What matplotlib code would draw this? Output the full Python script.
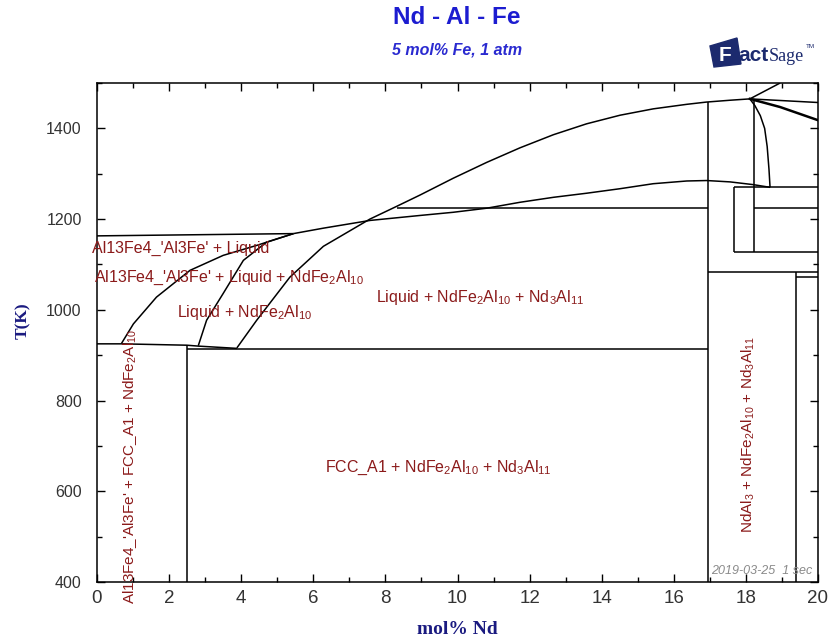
import matplotlib
matplotlib.use("Agg")
import matplotlib.pyplot as plt
from matplotlib.patches import Polygon
from matplotlib.ticker import MultipleLocator

# ---------------------------------------------------------------------------
# Nd-Al-Fe isopleth at 5 mol% Fe: phase boundaries (x = mol% Nd, y = T / K)
# ---------------------------------------------------------------------------
liq_flat_x = [0.0, 5.45]
liq_flat_T = [1163, 1168]

al13fe4_liq_x = [0.68, 1.01, 1.65, 2.58, 3.50, 4.43, 5.45]
al13fe4_liq_T = [926, 969, 1028, 1087, 1120, 1142, 1168]

nd_liq_x = [2.81, 3.04, 3.50, 4.06, 4.70, 5.45]
nd_liq_T = [921, 977, 1036, 1109, 1149, 1168]

upper_liq_x = [3.88, 4.43, 5.35, 6.28, 7.57, 8.31, 8.96, 9.88, 10.81, 11.73,
               12.66, 13.58, 14.51, 15.43, 16.36, 16.91, 17.56, 18.11]
upper_liq_T = [916, 977, 1072, 1140, 1200, 1228, 1253, 1290, 1325, 1357,
               1386, 1410, 1429, 1443, 1453, 1458, 1462, 1465]

lower_liq_x = [5.45, 6.28, 7.57, 8.96, 9.88, 10.81, 11.73, 12.66, 13.58,
               14.51, 15.43, 16.36, 16.91, 17.56, 18.20, 18.67]
lower_liq_T = [1168, 1180, 1197, 1208, 1215, 1224, 1237, 1248, 1257,
               1267, 1278, 1284, 1285, 1282, 1276, 1270]

eutectic_x = [0.0, 0.68, 2.49, 2.81, 3.88]
eutectic_T = [925, 925, 922, 920, 915]

steep_x = [18.11, 18.25, 18.40, 18.52, 18.59, 18.64, 18.67]
steep_T = [1465, 1450, 1428, 1400, 1360, 1310, 1270]

peak_up_x = [18.11, 18.95]
peak_up_T = [1465, 1500]
peak_flat_x = [18.11, 20.0]
peak_flat_T = [1465, 1457]
peak_down_x = [18.11, 18.95, 20.0]
peak_down_T = [1465, 1447, 1418]

# straight invariant lines: (x0, x1, T0, T1)
straight_lines = [
    (2.49, 2.49, 922, 400),
    (2.49, 16.95, 913, 913),
    (8.31, 16.95, 1224, 1224),
    (16.95, 16.95, 1458, 400),
    (18.23, 18.23, 1465, 1127),
    (18.23, 20.0, 1224, 1224),
    (17.68, 17.68, 1270, 1127),
    (17.68, 20.0, 1270, 1270),
    (17.68, 20.0, 1127, 1127),
    (16.95, 20.0, 1083, 1083),
    (19.38, 19.38, 1083, 400),
    (19.38, 20.0, 1073, 1073),
]

# phase-field labels: (text, x, T, rotation, horizontal alignment, size)
field_labels = [
    ("Al13Fe4_'Al3Fe' + Liquid", -0.14, 1135, 0, "left", 11.5),
    ("Al13Fe4_'Al3Fe' + Liquid + NdFe$_2$Al$_{10}$", -0.08, 1071, 0, "left", 11.5),
    ("Liquid + NdFe$_2$Al$_{10}$", 2.22, 994, 0, "left", 11.5),
    ("Liquid + NdFe$_2$Al$_{10}$ + Nd$_3$Al$_{11}$", 7.74, 1027, 0, "left", 11.5),
    ("FCC_A1 + NdFe$_2$Al$_{10}$ + Nd$_3$Al$_{11}$", 6.32, 652, 0, "left", 11.5),
    ("Al13Fe4_'Al3Fe' + FCC_A1 + NdFe$_2$Al$_{10}$", 0.92, 655, 90, "center", 11),
    ("NdAl$_3$ + NdFe$_2$Al$_{10}$ + Nd$_3$Al$_{11}$", 18.06, 725, 90, "center", 11),
]

x_ticks = [0, 2, 4, 6, 8, 10, 12, 14, 16, 18, 20]
y_ticks = [400, 600, 800, 1000, 1200, 1400]

# ---------------------------------------------------------------------------
plt.rcParams["font.family"] = ["Liberation Sans", "DejaVu Sans"]
plt.rcParams["mathtext.fontset"] = "custom"
plt.rcParams["mathtext.rm"] = "Liberation Sans"
plt.rcParams["mathtext.it"] = "Liberation Sans:italic"
plt.rcParams["mathtext.bf"] = "Liberation Sans:bold"

W, H = 829, 643
fig = plt.figure(figsize=(W / 100, H / 100), dpi=100)
fig.patch.set_facecolor("white")
ax = fig.add_axes([97 / W, 1 - 582 / H, (818 - 97) / W, (582 - 83) / H])

line_kw = dict(color="black", lw=1.1, solid_capstyle="butt")
ax.plot(liq_flat_x, liq_flat_T, **line_kw)
ax.plot(al13fe4_liq_x, al13fe4_liq_T, **line_kw)
ax.plot(nd_liq_x, nd_liq_T, **line_kw)
ax.plot(upper_liq_x, upper_liq_T, **line_kw)
ax.plot(lower_liq_x, lower_liq_T, **line_kw)
ax.plot(eutectic_x, eutectic_T, **line_kw)
ax.plot(steep_x, steep_T, **line_kw)
ax.plot(peak_up_x, peak_up_T, **line_kw)
ax.plot(peak_flat_x, peak_flat_T, **line_kw)
ax.plot(peak_down_x, peak_down_T, color="black", lw=1.8)
for x0, x1, t0, t1 in straight_lines:
    ax.plot([x0, x1], [t0, t1], **line_kw)

label_color = "#8b1a1a"
for text, x, t, rot, ha, size in field_labels:
    ax.text(x, t, text, color=label_color, fontsize=size, rotation=rot,
            ha=ha, va="center", clip_on=False)

ax.text(19.83, 425, "2019-03-25  1 sec", color="#8a8a8a", fontsize=9,
        style="italic", ha="right", va="center")

ax.set_xlim(0, 20)
ax.set_ylim(400, 1500)
ax.set_xticks(x_ticks)
ax.set_yticks(y_ticks)
ax.xaxis.set_minor_locator(MultipleLocator(1))
ax.yaxis.set_minor_locator(MultipleLocator(100))
ax.tick_params(which="both", direction="in", top=True, right=True,
               colors="black")
ax.tick_params(which="major", length=6, width=1)
ax.tick_params(which="minor", length=3.5, width=1)
ax.tick_params(axis="x", which="major", labelsize=13.5, pad=6,
               labelcolor="#333333")
ax.tick_params(axis="y", which="major", labelsize=11.5, pad=11,
               labelcolor="#333333")
for s in ax.spines.values():
    s.set_linewidth(1.1)

ax.set_xlabel("mol% Nd", family=["Liberation Serif", "DejaVu Serif"],
              fontweight="bold", fontsize=14, color="#1a1a80")
ax.xaxis.set_label_coords(0.5, -(621 - 582) / (582 - 83))
ax.set_ylabel("T(K)", family=["Liberation Serif", "DejaVu Serif"],
              fontweight="bold", fontsize=12.5, color="#1a1a80")
ax.yaxis.set_label_coords(-(97 - 31) / (818 - 97), (582 - 321) / (582 - 83))

# titles
fig.text(457 / W, 1 - 18 / H, "Nd - Al - Fe", ha="center", va="center",
         fontsize=17.5, fontweight="bold", color="#1c1cd0")
fig.text(457 / W, 1 - 50 / H, "5 mol% Fe, 1 atm", ha="center", va="center",
         fontsize=11.5, fontweight="bold", style="italic", color="#2a2ad0")

# FactSage logo
navy = "#1c2a6e"
fig.patches.append(Polygon([(710 / W, 1 - 46 / H), (737 / W, 1 - 38 / H),
                            (741 / W, 1 - 64 / H), (714 / W, 1 - 67 / H)],
                           closed=True, transform=fig.transFigure,
                           facecolor=navy, edgecolor=navy, figure=fig))
fig.text(719 / W, 1 - 61 / H, "F", color="white", fontsize=15,
         fontweight="bold", ha="left", va="baseline")
fig.text(738 / W, 1 - 61 / H, "act", color=navy, fontsize=15,
         fontweight="bold", ha="left", va="baseline")
fig.text(769 / W, 1 - 61 / H, "Sage", color=navy, fontsize=13,
         family=["Liberation Serif", "DejaVu Serif"], ha="left",
         va="baseline")
fig.text(806 / W, 1 - 48 / H, "TM", color=navy, fontsize=4.5,
         ha="left", va="baseline")

fig.savefig("out.png", dpi=100, facecolor="white")
